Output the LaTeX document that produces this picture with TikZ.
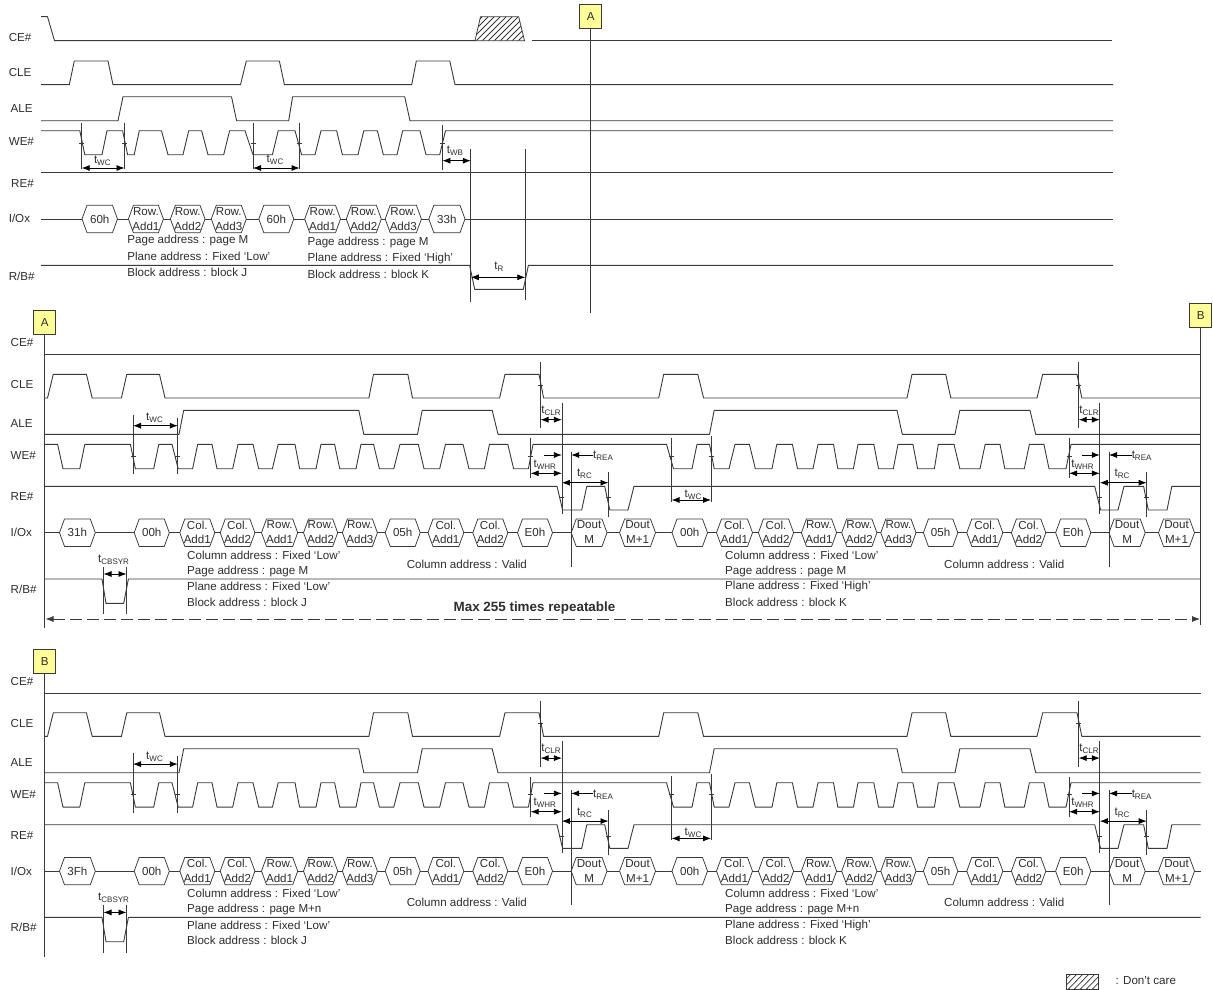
\documentclass[tikz,border=0pt]{standalone}
\usepackage{fontspec}
\setmainfont{Liberation Sans}
\usetikzlibrary{arrows.meta}
\definecolor{sig}{HTML}{3A3A3A}
\definecolor{txt}{HTML}{2E2E2E}
\definecolor{flagfill}{HTML}{FFFF99}
\tikzset{
  wire/.style={line width=0.9pt,color=sig,line join=round},
  dimline/.style={line width=0.75pt,color=sig},
  hexline/.style={line width=0.75pt,color=sig,fill=white,line join=round},
  twoway/.style={line width=0.8pt,color=black,{Latex[length=8pt,width=6pt]}-{Latex[length=8pt,width=6pt]}},
  oneway/.style={line width=0.8pt,color=black,-{Latex[length=8pt,width=6pt]}},
  lbl/.style={font=\fontsize{11.6pt}{13pt}\selectfont,text=txt,inner sep=0pt},
  lbll/.style={lbl,anchor=west},
  flagbox/.style={draw=sig,line width=0.8pt,fill=flagfill,minimum width=22pt,minimum height=24pt,inner sep=0pt,font=\fontsize{11.6pt}{13pt}\selectfont,text=txt}
}
\newcommand\tsub[1]{t\raisebox{-2pt}{\fontsize{8pt}{9pt}\selectfont #1}}
\newcommand\wave[5]{%
  \xdef\wpath{(#3,#1)}\xdef\wcur{#1}\xdef\woth{#2}%
  \foreach \wa/\wb in {#5}{%
    \xdef\wpath{\wpath -- (\wa,\wcur) -- (\wb,\woth)}%
    \xdef\wtmp{\wcur}\xdef\wcur{\woth}\xdef\woth{\wtmp}}%
  \edef\wcmd{\noexpand\draw[wire] \wpath -- (#4,\wcur);}\wcmd}
% hexagon bus cell: x1, x2, y centre, half height 13.7
\newcommand\hexcell[3]{\draw[hexline] (#1,#3) -- ({#1+5},{#3-13.7}) -- ({#2-5},{#3-13.7}) -- (#2,#3) -- ({#2-5},{#3+13.7}) -- ({#1+5},{#3+13.7}) -- cycle;}
\newcommand\hexa[4]{\hexcell{#1}{#2}{#3}\node[lbl] at ({(#1+#2)/2},#3) {#4};}
\newcommand\hexb[5]{\hexcell{#1}{#2}{#3}\node[lbl] at ({(#1+#2)/2},{#3-7.8}) {#4};\node[lbl] at ({(#1+#2)/2},{#3+7}) {#5};}
\newcommand\vmark[3]{\draw[dimline] (#1,#2) -- (#1,#3);}
\newcommand\tick[2]{\draw[dimline] ({#1-2.5},#2) -- ({#1+2.5},#2);}
% repeated block (coordinates of the middle block)
\newcommand\repsec[3]{%
  % #1 first cell, #2 page text, #3 plane text set second
  \draw[wire] (44.7,354.7) -- (1200.7,354.7);
  \wave{398}{374.3}{44.7}{1200.7}{47.5/53.3,86.4/92.2,121.4/126.8,159.5/165,368.9/373.5,407.8/412.5,499.6/505,539/543.6,658.7/663.7,697.8/703.6,907/912,945.7/950.8,1037/1042.7,1077/1081.8}
  \wave{434.3}{410.3}{44.7}{1200.7}{179/183.7,358.8/363.8,417.5/422.2,492.2/498,709.5/714.2,897/902.3,955/959.8,1030/1035.7}
  \wave{444.3}{468.7}{44.7}{1200.7}{57.6/63,79.8/84.8,130.4/135.4,153.7/158.8,172/178.2,192.6/197.7,212/217,232.7/238,253/258.7,272.4/278.2,295/299.6,316/321,334.6/339.7,356/361,373.5/379.4,393.8/400,418.3/424,439.7/445.5,463/469,484.4/489.5,507.8/513.6,528.4/533,666.5/673.5,692/697,709.5/714.2,729/735,749.4/755.3,772/776.8,792.4/797.5,813/818,833.5/837.8,853.4/858,873.8/878.5,893.3/898,912.9/917.6,934.4/938.3,954/959.8,980/985.2,1000/1004.8,1024.3/1029.4,1043.9/1049,1066/1071}
  \wave{486.3}{510}{44.7}{1200.7}{557/562.6,581.7/586.8,604.7/609.8,628/634,1094.7/1100.6,1118/1124,1143.6/1148.3,1167/1171.8}
  \wave{579}{603.3}{44.7}{1200.7}{102/106,123.7/128.4}
  \draw[wire] (44.7,532.7) -- (1200.7,532.7);
  \hexa{59.5}{95.3}{532.7}{#1}
  \hexa{134.2}{169.3}{532.7}{00h}
  \hexb{179.8}{214.8}{532.7}{Col.}{Add1}
  \hexb{220.2}{254.9}{532.7}{Col.}{Add2}
  \hexb{261.5}{297.7}{532.7}{Row.}{Add1}
  \hexb{303.5}{337.7}{532.7}{Row.}{Add2}
  \hexb{342.4}{377.4}{532.7}{Row.}{Add3}
  \hexa{385.2}{420.2}{532.7}{05h}
  \hexb{428}{463.8}{532.7}{Col.}{Add1}
  \hexb{472.8}{507.8}{532.7}{Col.}{Add2}
  \hexa{517.5}{552.5}{532.7}{E0h}
  \hexb{571.2}{607}{532.7}{Dout}{M}
  \hexb{619.6}{655.5}{532.7}{Dout}{M+1}
  \hexa{672}{707.5}{532.7}{00h}
  \hexb{716.5}{752.5}{532.7}{Col.}{Add1}
  \hexb{758.4}{793.6}{532.7}{Col.}{Add2}
  \hexb{801.4}{836.6}{532.7}{Row.}{Add1}
  \hexb{841.7}{876.9}{532.7}{Row.}{Add2}
  \hexb{880.8}{916}{532.7}{Row.}{Add3}
  \hexa{923.4}{957.8}{532.7}{05h}
  \hexb{966.8}{1002.8}{532.7}{Col.}{Add1}
  \hexb{1011.4}{1045.8}{532.7}{Col.}{Add2}
  \hexa{1055.6}{1090.8}{532.7}{E0h}
  \hexb{1109}{1145.2}{532.7}{Dout}{M}
  \hexb{1158.5}{1194.5}{532.7}{Dout}{M+1}
  % timing marks
  \vmark{133}{415}{474.3}\vmark{177.8}{418}{474.3}
  \tick{133}{456}\tick{177.8}{456}
  \draw[twoway] (133,425.7) -- (177.8,425.7);
  \node[lbl] at (154.5,418) {\tsub{WC}};
  \vmark{103.5}{566.7}{614.3}\vmark{126.5}{566.7}{614.3}
  \draw[twoway] (103.5,574) -- (126.5,574);
  \node[lbl] at (113.6,559.3) {\tsub{CBSYR}};
  % first read group
  \vmark{540.5}{362.3}{428.3}\vmark{561.9}{402.7}{514.3}
  \tick{540.5}{385}\tick{561.9}{497.5}
  \draw[twoway] (540.5,419.7) -- (561.9,419.7);
  \node[lbl] at (551,410.3) {\tsub{CLR}};
  \vmark{530.7}{438.3}{478.3}\tick{530.7}{456}
  \draw[twoway] (530.7,473.3) -- (561.9,473.3);
  \draw[oneway] (544,455) -- (561.9,455);
  \node[lbl] at (544.7,464.3) {\tsub{WHR}};
  \vmark{571.2}{451.7}{566.7}
  \draw[oneway] (593.4,455) -- (571.2,455);
  \node[lbl] at (603,456) {\tsub{REA}};
  \vmark{608.5}{471.7}{516.7}\tick{608.5}{497.5}
  \draw[twoway] (561.9,482.7) -- (608.5,482.7);
  \node[lbl] at (584.4,474) {\tsub{RC}};
  \vmark{671.6}{438}{501.7}\vmark{711}{436}{501.7}
  \tick{671.6}{456}\tick{711}{456}
  \draw[twoway] (671.6,500) -- (711,500);
  \node[lbl] at (693,494.3) {\tsub{WC}};
  % second read group
  \vmark{1078.7}{362.3}{428.3}\vmark{1099.8}{402.7}{514.3}
  \tick{1078.7}{385}\tick{1099.8}{497.5}
  \draw[twoway] (1078.7,419.7) -- (1099.8,419.7);
  \node[lbl] at (1089,410.3) {\tsub{CLR}};
  \vmark{1069}{438.3}{478.3}\tick{1069}{456}
  \draw[twoway] (1069,473.3) -- (1099.8,473.3);
  \draw[oneway] (1082,455) -- (1099.8,455);
  \node[lbl] at (1082.5,464.3) {\tsub{WHR}};
  \vmark{1109}{451.7}{566.7}
  \draw[oneway] (1132,455) -- (1109,455);
  \node[lbl] at (1141.6,456) {\tsub{REA}};
  \vmark{1146.7}{471.7}{516.7}\tick{1146.7}{497.5}
  \draw[twoway] (1099.8,482.7) -- (1146.7,482.7);
  \node[lbl] at (1122,474) {\tsub{RC}};
  % address text
  \node[lbll] at (187,555) {Column address : Fixed ‘Low’};
  \node[lbll] at (187,571) {Page address : #2};
  \node[lbll] at (187,586.7) {Plane address : Fixed ‘Low’};
  \node[lbll] at (187,602.3) {Block address : block J};
  \node[lbll] at (406.6,564.3) {Column address : Valid};
  \node[lbll] at (725,555) {Column address : Fixed ‘Low’};
  \node[lbll] at (725,571) {Page address : #2};
  \node[lbll] at (725,586.7) {Plane address : Fixed ‘High’};
  \node[lbll] at (725,602.3) {Block address : block K};
  \node[lbll] at (944,564.3) {Column address : Valid};
  % signal names
  \node[lbll] at (10.5,342.7) {CE\#};
  \node[lbll] at (10.5,385) {CLE};
  \node[lbll] at (10.5,424) {ALE};
  \node[lbll] at (10.5,456) {WE\#};
  \node[lbll] at (10.5,496.7) {RE\#};
  \node[lbll] at (10.5,532.7) {I/Ox};
  \node[lbll] at (10.5,589) {R/B\#};
}
\begin{document}
\begin{tikzpicture}[x=1pt,y=-1pt]
\useasboundingbox (0,0) rectangle (1213,990);
\fill[white] (0,0) rectangle (1213,990);
% ---------- top block ----------
\draw[wire] (41,16.7) -- (47.5,16.7) -- (54.5,40.7) -- (475,40.7);
\draw[wire] (532,40.7) -- (1112,40.7);
\begin{scope}
  \clip (475,40.7) -- (480.5,16.7) -- (518.7,16.7) -- (524.5,40.7) -- cycle;
  \foreach \hx in {440,446,...,530} \draw[dimline] (\hx,41) -- ({\hx+24},17);
\end{scope}
\draw[dimline] (475,40.7) -- (480.5,16.7) -- (518.7,16.7) -- (524.5,40.7) -- cycle;
\wave{84.7}{61}{41}{1113}{69.3/74.3,108/113,240.5/246.3,279.4/284.4,411.7/416.3,449.8/455}
\wave{120.7}{96.7}{41}{1113}{118/123,231.5/236.6,288.7/292.6,404.7/410}
\wave{130.7}{154.7}{41}{1113}{79.8/84.8,102/107,122.6/127.6,134.2/139.3,161.5/168,183/188.7,201.6/208,223.7/229.6,245/253,272.4/278.2,295/301.6,315/321,336.6/342.4,358/363.8,377.4/383.3,397/402.7,420/426,439.7/445.5}
\draw[wire] (41,172.3) -- (1113,172.3);
\wave{265.3}{289.3}{41}{1113}{469.6/474.7,523.3/528.4}
\draw[wire] (41,219) -- (1113,219);
\hexa{82}{117.5}{219}{60h}
\hexb{128.4}{163.4}{219}{Row.}{Add1}
\hexb{170.4}{205}{219}{Row.}{Add2}
\hexb{211.3}{246.3}{219}{Row.}{Add3}
\hexa{258.8}{293.8}{219}{60h}
\hexb{304.7}{340.5}{219}{Row.}{Add1}
\hexb{346.3}{381.3}{219}{Row.}{Add2}
\hexb{385.2}{421.4}{219}{Row.}{Add3}
\hexa{428.8}{465}{219}{33h}
\vmark{81.7}{122.7}{169.3}\vmark{124.5}{122.7}{169.3}
\tick{81.7}{143}\tick{124.5}{143}
\draw[twoway] (81.7,168) -- (124.5,168);
\node[lbl] at (102.3,161) {\tsub{WC}};
\vmark{253}{122.7}{169.3}\vmark{299.6}{122.7}{169.3}
\tick{253}{143}\tick{299.6}{143}
\draw[twoway] (253,168) -- (299.6,168);
\node[lbl] at (275,160) {\tsub{WC}};
\vmark{442.4}{125}{170}\tick{442.4}{143}
\vmark{470.8}{149.3}{301.7}
\draw[twoway] (442.4,160.7) -- (470.8,160.7);
\node[lbl] at (455,150.7) {\tsub{WB}};
\vmark{525.3}{149.3}{300}
\draw[twoway] (470.8,277.3) -- (525.3,277.3);
\node[lbl] at (498.8,266.7) {\tsub{R}};
\node[lbll] at (127.2,240.7) {Page address : page M};
\node[lbll] at (127.2,256.7) {Plane address : Fixed ‘Low’};
\node[lbll] at (127.2,272.7) {Block address : block J};
\node[lbll] at (307.4,242.3) {Page address : page M};
\node[lbll] at (307.4,258.3) {Plane address : Fixed ‘High’};
\node[lbll] at (307.4,274.3) {Block address : block K};
\node[lbll] at (8.6,37.7) {CE\#};
\node[lbll] at (8.6,72.3) {CLE};
\node[lbll] at (10.5,108.3) {ALE};
\node[lbll] at (8.6,141.7) {WE\#};
\node[lbll] at (11,183.3) {RE\#};
\node[lbll] at (8.6,218.3) {I/Ox};
\node[lbll] at (8.6,276) {R/B\#};
\node[flagbox] (flagA) at (590.7,16.7) {A};
\coordinate (flagAend) at (590.7,313);
\draw[dimline] (flagA) -- (flagAend);
% ---------- middle block ----------
\repsec{31h}{page M}{}
\node[flagbox] (flagAb) at (44.7,322.8) {A};
\coordinate (flagAbend) at (44.7,628);
\draw[dimline] (flagAb) -- (flagAbend);
\node[flagbox] (flagB) at (1200.7,315.5) {B};
\coordinate (flagBend) at (1200.7,625);
\draw[dimline] (flagB) -- (flagBend);
\coordinate (repL) at (45.5,619);
\coordinate (repR) at (1200,619);
\draw[line width=0.8pt,color=sig,dash pattern=on 12pt off 5pt,{Latex[length=8pt,width=6pt]}-{Latex[length=8pt,width=6pt]}] (repL) -- (repR);
\node[lbl,font=\bfseries\fontsize{13.4pt}{14pt}\selectfont] at (534.5,608.3) {Max 255 times repeatable};
% ---------- bottom block ----------
\begin{scope}[yshift=-338.4pt]
\repsec{3Fh}{page M+n}{}
\end{scope}
\node[flagbox] (flagBb) at (44.7,661.3) {B};
\coordinate (flagBbend) at (44.7,957);
\draw[dimline] (flagBb) -- (flagBbend);
% ---------- legend ----------
\begin{scope}
  \clip (1066,974.3) rectangle (1098.6,989);
  \foreach \hx in {1050,1056,...,1100} \draw[dimline] (\hx,989.5) -- ({\hx+15},974);
\end{scope}
\draw[dimline] (1066,974.3) rectangle (1098.6,989);
\node[lbll] at (1115.4,981) {: Don’t care};
\end{tikzpicture}
\end{document}
